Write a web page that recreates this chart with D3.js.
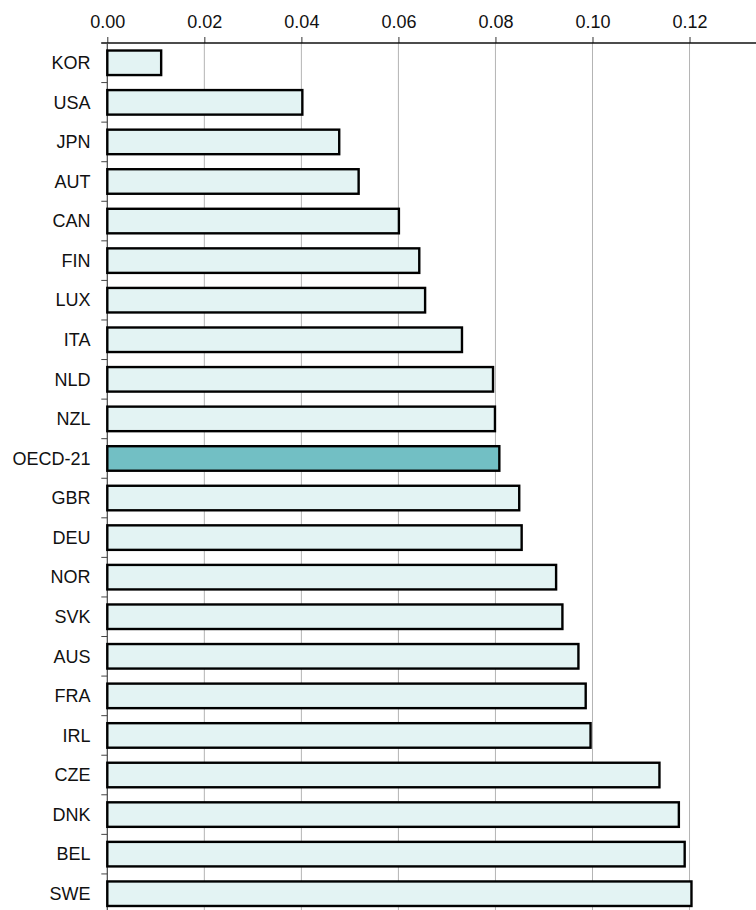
<!DOCTYPE html>
<html>
<head>
<meta charset="utf-8">
<script src="https://cdn.jsdelivr.net/npm/d3@7"></script>
<style>
	html, body { margin: 0; padding: 0; background: #fff; }
	svg { display: block; font-family: "Liberation Sans", Arial, sans-serif; }
</style>
</head>
<body>
<div id="chart"></div>
<script>
// Data
var countries = ["KOR", "USA", "JPN", "AUT", "CAN", "FIN", "LUX", "ITA", "NLD", "NZL", "OECD-21",
				 "GBR", "DEU", "NOR", "SVK", "AUS", "FRA", "IRL", "CZE", "DNK", "BEL", "SWE"];
var values = [0.0111, 0.0402, 0.0478, 0.0518, 0.0601, 0.0643, 0.0655, 0.0731, 0.0795, 0.0799, 0.0808,
			  0.0849, 0.0854, 0.0925, 0.0938, 0.0971, 0.0986, 0.0996, 0.1138, 0.1178, 0.1190, 0.1204];
var tickValues = [0, 0.02, 0.04, 0.06, 0.08, 0.10, 0.12];
var highlight = "OECD-21";

var width = 756, height = 910;
var margin = { top: 43, left: 107.3, right: 0, bottom: -3.5 };

var svg = d3.select("#chart")
			.append("svg")
			.attr("width", width)
			.attr("height", height);

var x = d3.scaleLinear()
		  .domain([0, 0.1337])
		  .range([margin.left, width - margin.right]);

var pad = 0.38;
var y = d3.scaleBand()
		  .domain(countries)
		  .range([margin.top, height - margin.bottom])
		  .paddingInner(pad)
		  .paddingOuter(pad / 2);

// Vertical grid lines
svg.append("g")
	.selectAll("line")
	.data(tickValues.slice(1))
	.enter()
	.append("line")
	.attr("x1", function (d) { return x(d); })
	.attr("x2", function (d) { return x(d); })
	.attr("y1", margin.top)
	.attr("y2", height)
	.attr("stroke", "#b4b4b4")
	.attr("stroke-width", 1);

// Top axis
var xAxis = d3.axisTop(x)
			  .tickValues(tickValues)
			  .tickFormat(d3.format(".2f"))
			  .tickSize(6)
			  .tickPadding(9);

var gx = svg.append("g")
			.attr("transform", "translate(0," + margin.top + ")")
			.call(xAxis);
gx.select(".domain").remove();
gx.selectAll(".tick line").attr("stroke", "#333");
gx.selectAll(".tick text")
	.attr("font-size", 18)
	.attr("font-family", "Liberation Sans, Arial, sans-serif")
	.attr("fill", "#111");

gx.append("line")
	.attr("x1", margin.left - 6)
	.attr("x2", width)
	.attr("y1", 0)
	.attr("y2", 0)
	.attr("stroke", "#111")
	.attr("stroke-width", 1.3);

// Left axis: ticks between categories
var step = y.step();
var boundaries = countries.map(function (c) { return y(c) - step * pad / 2; });

svg.append("g")
	.selectAll("line")
	.data(boundaries)
	.enter()
	.append("line")
	.attr("x1", margin.left - 6)
	.attr("x2", margin.left)
	.attr("y1", function (d) { return d; })
	.attr("y2", function (d) { return d; })
	.attr("stroke", "#444")
	.attr("stroke-width", 1);

svg.append("line")
	.attr("x1", margin.left)
	.attr("x2", margin.left)
	.attr("y1", margin.top)
	.attr("y2", height)
	.attr("stroke", "#444")
	.attr("stroke-width", 1.2);

// Category labels
svg.append("g")
	.selectAll("text")
	.data(countries)
	.enter()
	.append("text")
	.attr("x", 90.5)
	.attr("y", function (d) { return y(d) + y.bandwidth() / 2; })
	.attr("dy", "0.35em")
	.attr("text-anchor", "end")
	.attr("font-size", 18)
	.attr("fill", "#111")
	.text(function (d) { return d; });

// Bars
svg.append("g")
	.selectAll("rect")
	.data(countries)
	.enter()
	.append("rect")
	.attr("x", x(0))
	.attr("y", function (d) { return y(d); })
	.attr("width", function (d, i) { return x(values[i]) - x(0); })
	.attr("height", y.bandwidth())
	.attr("fill", function (d) { return d === highlight ? "#72bfc4" : "#e3f3f3"; })
	.attr("stroke", "#000")
	.attr("stroke-width", 2.4);
</script>
</body>
</html>
